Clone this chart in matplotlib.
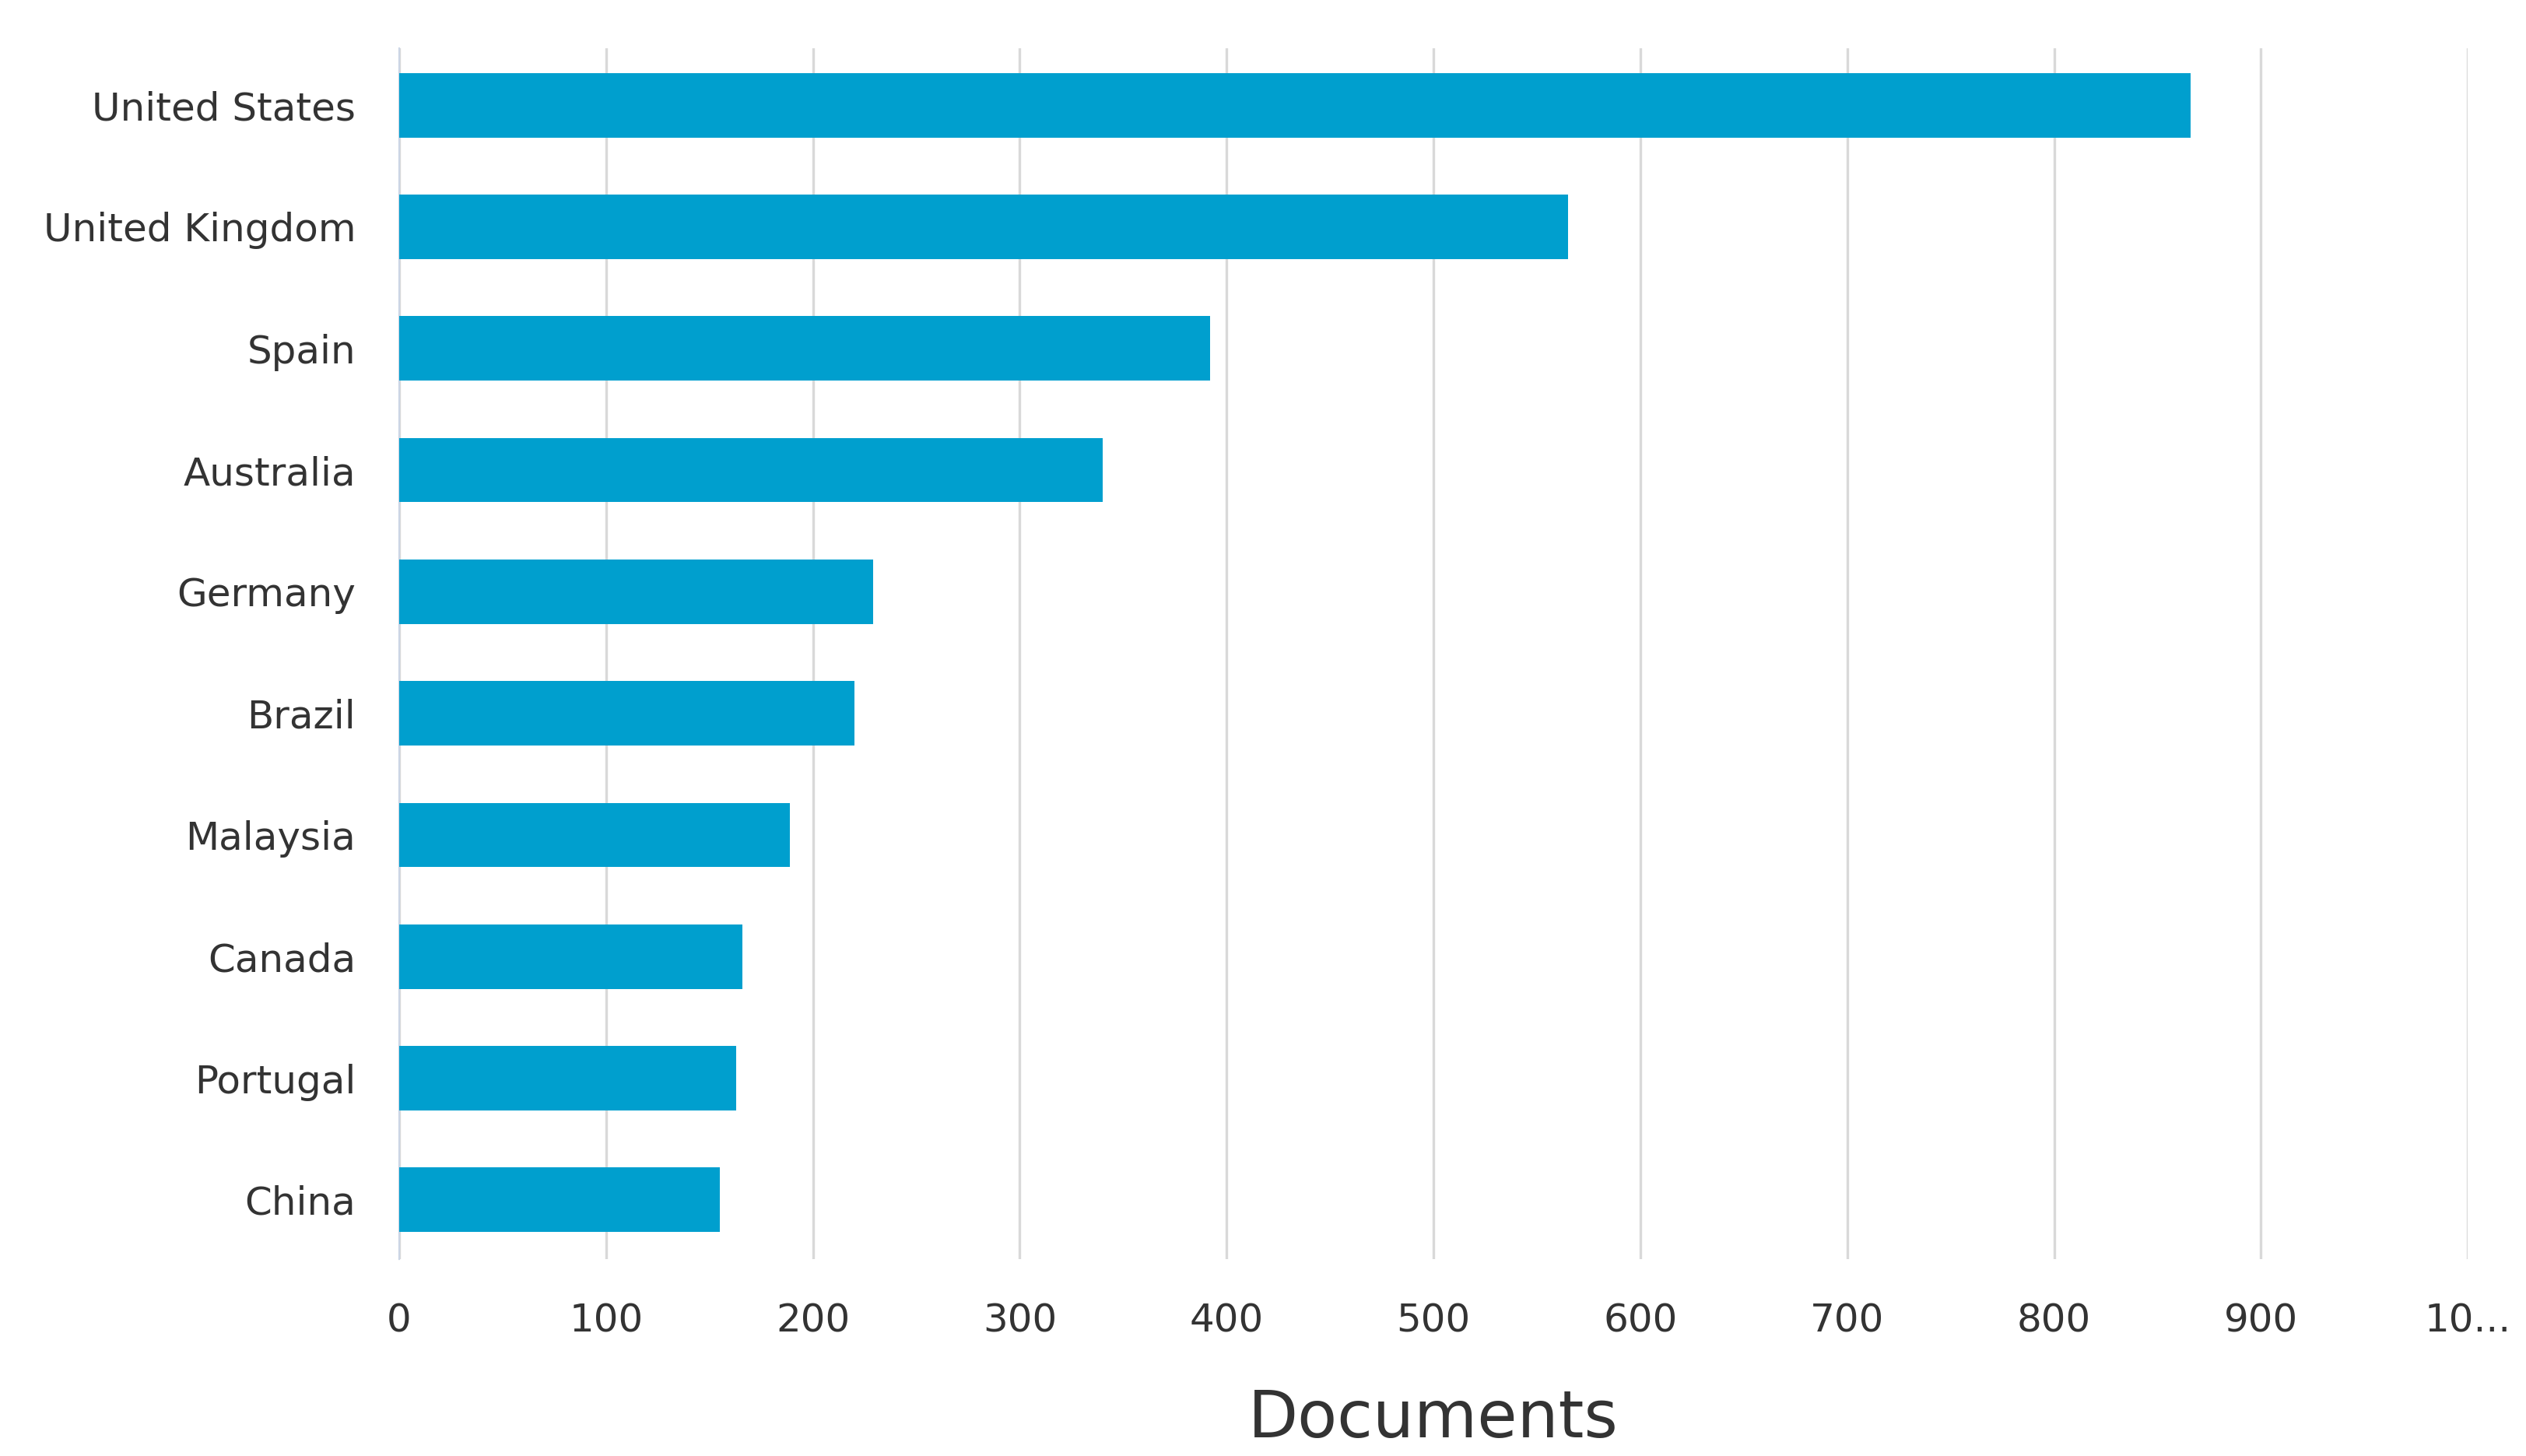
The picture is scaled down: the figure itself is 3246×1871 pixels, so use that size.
import matplotlib
matplotlib.use("Agg")
import matplotlib.pyplot as plt

countries = ["United States", "United Kingdom", "Spain", "Australia", "Germany",
             "Brazil", "Malaysia", "Canada", "Portugal", "China"]
documents = [866, 565, 392, 340, 229, 220, 189, 166, 163, 155]
tick_values = [0, 100, 200, 300, 400, 500, 600, 700, 800, 900, 1000]
tick_labels = ["0", "100", "200", "300", "400", "500", "600", "700", "800", "900", "10..."]

fig = plt.figure(figsize=(16.23, 9.355), dpi=200)
ax = fig.add_axes([0.158, 0.135, 0.819, 0.832])
y = list(range(len(countries)))
ax.barh(y, documents, height=0.53, color="#009fce", zorder=3)
ax.set_ylim(len(countries) - 0.51, -0.47)
ax.set_xlim(0, 1000)
ax.set_yticks(y)
ax.set_yticklabels(countries, fontsize=18, color="#333333")
ax.set_xticks(tick_values)
ax.set_xticklabels(tick_labels, fontsize=18, color="#333333")
ax.grid(axis="x", color="#d9d9d9", linewidth=1.2, zorder=0)
for s in ["top", "right", "bottom"]:
    ax.spines[s].set_visible(False)
ax.spines["left"].set_color("#ccd6e6")
ax.tick_params(length=0, pad=20)
ax.set_xlabel("Documents", fontsize=30, color="#333333", labelpad=22)
fig.savefig("out.png", dpi=200)
